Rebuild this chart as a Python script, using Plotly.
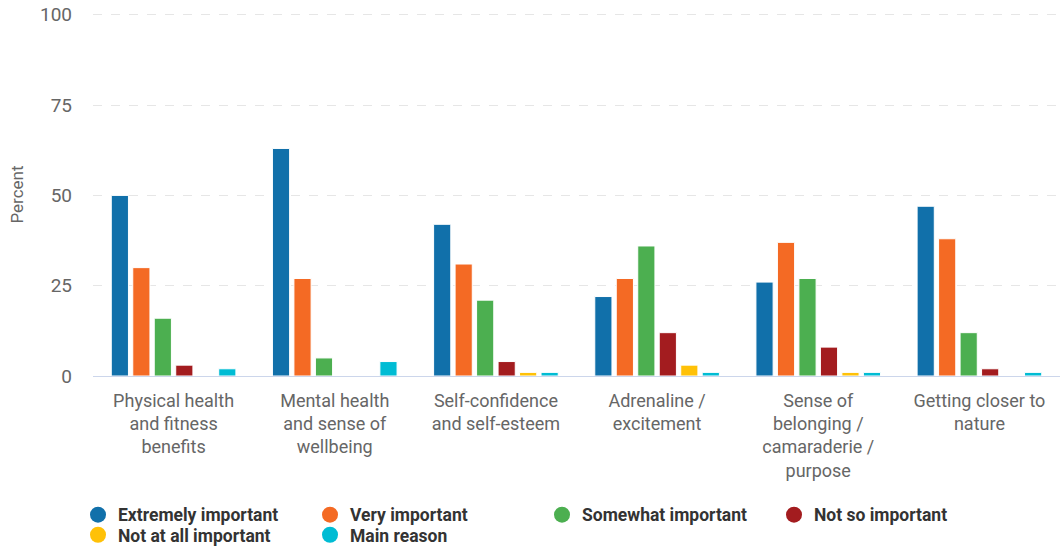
import plotly.graph_objects as go

categories = [
    "Physical health<br>and fitness<br>benefits",
    "Mental health<br>and sense of<br>wellbeing",
    "Self-confidence<br>and self-esteem",
    "Adrenaline /<br>excitement",
    "Sense of<br>belonging /<br>camaraderie /<br>purpose",
    "Getting closer to<br>nature",
]

series_names = [
    "Extremely important",
    "Very important",
    "Somewhat important",
    "Not so important",
    "Not at all important",
    "Main reason",
]

extremely_important = [50, 63, 42, 22, 26, 47]
very_important = [30, 27, 31, 27, 37, 38]
somewhat_important = [16, 5, 21, 36, 27, 12]
not_so_important = [3, 0, 4, 12, 8, 2]
not_at_all_important = [0, 0, 1, 3, 1, 0]
main_reason = [2, 4, 1, 1, 1, 1]

series_values = [
    extremely_important,
    very_important,
    somewhat_important,
    not_so_important,
    not_at_all_important,
    main_reason,
]

colors = ["#1170aa", "#f46a24", "#4caf50", "#a31c1f", "#ffc107", "#00bcd4"]

y_ticks = [0, 25, 50, 75, 100]

fig = go.Figure()

for name, vals, col in zip(series_names, series_values, colors):
    fig.add_trace(go.Bar(
        x=categories, y=vals, name=name,
        marker=dict(color=col, line=dict(color="white", width=1)),
        showlegend=False,
    ))

# circular legend markers, split over two single-row legends
for i, (name, col) in enumerate(zip(series_names, colors)):
    fig.add_trace(go.Scatter(
        x=[None], y=[None], mode="markers", name=name,
        marker=dict(color=col, size=16, symbol="circle"),
        showlegend=True,
        legend="legend" if i < 4 else "legend2",
    ))

legend_style = dict(
    orientation="h", xanchor="left", yanchor="middle",
    font=dict(family="Roboto", size=17.5, color="#333333", weight="bold"),
    entrywidth=187, entrywidthmode="pixels",
    itemsizing="trace", bgcolor="rgba(0,0,0,0)",
    traceorder="normal",
)

fig.update_layout(
    width=1060, height=547,
    margin=dict(l=93, r=0, t=13, b=171, autoexpand=False),
    paper_bgcolor="white", plot_bgcolor="white",
    barmode="group", bargap=0.2, bargroupgap=0.2,
    font=dict(family="Roboto", color="#666666"),
    showlegend=True,
    legend=dict(x=-0.0155, y=-0.3823, **legend_style),
    legend2=dict(x=-0.0155, y=-0.4377, **legend_style),
)

fig.update_xaxes(
    showline=True, linecolor="#ccd6eb", linewidth=1,
    showgrid=False, ticks="", automargin=False,
    tickfont=dict(size=18, color="#666666"),
    ticklabelstandoff=8,
)

fig.update_yaxes(
    range=[0, 100.5], tickvals=y_ticks,
    showgrid=True, gridcolor="#e6e6e6", griddash="dash", gridwidth=1,
    zeroline=False, showline=False, ticks="", automargin=False,
    tickfont=dict(size=19, color="#666666"),
    ticklabelstandoff=20,
    title=dict(text="Percent", font=dict(size=17, color="#666666"), standoff=12),
)

fig.write_html("out.html")
